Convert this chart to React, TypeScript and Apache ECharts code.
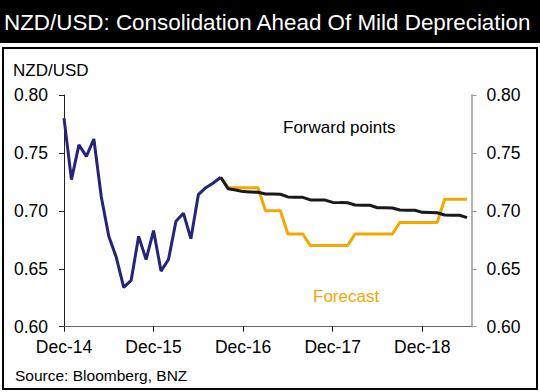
import React, { useEffect, useRef } from "react";
import * as echarts from "echarts";

// x positions are months counted from Dec-14 (= 0)
const tickLabels = ["Dec-14", "Dec-15", "Dec-16", "Dec-17", "Dec-18"];
const monthsShown = 54.6;

const spotStart = 0;
const spot = [
  0.78, 0.727, 0.757, 0.747, 0.762, 0.712, 0.678, 0.66, 0.634, 0.64, 0.678,
  0.658, 0.683, 0.648, 0.658, 0.691, 0.698, 0.676, 0.714, 0.72, 0.724, 0.729,
];

const forwardStart = 21;
const forward = [
  0.729, 0.719, 0.718, 0.7166, 0.7163, 0.716, 0.7145, 0.7145, 0.7143, 0.712,
  0.7118, 0.7117, 0.7094, 0.7094, 0.7093, 0.7073, 0.7071, 0.707, 0.705,
  0.7049, 0.7048, 0.7027, 0.7026, 0.7025, 0.7007, 0.7006, 0.7005, 0.6987,
  0.6986, 0.6984, 0.6964, 0.6963, 0.6962, 0.6941,
];

const forecastStart = 21;
const forecast = [
  0.729, 0.72, 0.72, 0.72, 0.72, 0.72, 0.7, 0.7, 0.7, 0.68, 0.68, 0.68, 0.67,
  0.67, 0.67, 0.67, 0.67, 0.67, 0.68, 0.68, 0.68, 0.68, 0.68, 0.68, 0.69,
  0.69, 0.69, 0.69, 0.69, 0.69, 0.71, 0.71, 0.71, 0.71,
];

const FONT = "'Liberation Sans', Arial, Helvetica, sans-serif";
const BLUE = "#24247a";
const ORANGE = "#f5a700";
const BLACK = "#1a1a1a";

const toPairs = (start: number, arr: number[]) => arr.map((v, k) => [start + k, v]);

export default function App() {
  const ref = useRef<HTMLDivElement>(null);
  useEffect(() => {
    if (!ref.current) return;
    const chart = echarts.init(ref.current, undefined, { renderer: "svg" });
    const yAxisBase = {
      type: "value" as const,
      min: 0.6,
      max: 0.8,
      interval: 0.05,
      splitLine: { show: false },
      axisLabel: {
        fontFamily: FONT,
        fontSize: 17.5,
        color: "#000",
        margin: 15,
        formatter: (v: number) => v.toFixed(2),
      },
    };
    chart.setOption({
      animation: false,
      backgroundColor: "#fff",
      grid: { left: 64, right: 68.5, top: 95, bottom: 65.3 },
      xAxis: {
        type: "value",
        min: 0,
        max: monthsShown,
        interval: 12,
        splitLine: { show: false },
        axisLine: { lineStyle: { color: "#666", width: 1 } },
        axisTick: { length: 5, lineStyle: { color: "#111" } },
        axisLabel: {
          fontFamily: FONT,
          fontSize: 17.5,
          color: "#000",
          margin: 11.5,
          showMaxLabel: false,
          formatter: (v: number) =>
            Math.abs(v % 12) < 1e-6 ? tickLabels[Math.round(v / 12)] ?? "" : "",
        },
      },
      yAxis: [
        {
          ...yAxisBase,
          position: "left",
          axisLine: { show: true, lineStyle: { color: "#222", width: 1 } },
          axisTick: { show: true, length: 5, lineStyle: { color: "#222" } },
          axisLabel: { ...yAxisBase.axisLabel, margin: 16 },
        },
        {
          ...yAxisBase,
          position: "right",
          axisLine: { show: true, lineStyle: { color: "#9a9a9a", width: 1.5 } },
          axisTick: { show: true, length: 5, lineStyle: { color: "#9a9a9a" } },
        },
      ],
      series: [
        {
          type: "line",
          data: toPairs(forecastStart, forecast),
          showSymbol: false,
          lineStyle: { color: ORANGE, width: 3 },
          z: 2,
        },
        {
          type: "line",
          data: toPairs(forwardStart, forward),
          showSymbol: false,
          lineStyle: { color: BLACK, width: 3 },
          z: 3,
        },
        {
          type: "line",
          data: toPairs(spotStart, spot),
          showSymbol: false,
          lineStyle: { color: BLUE, width: 3 },
          z: 4,
        },
      ],
      graphic: [
        { type: "rect", shape: { x: 0, y: 0, width: 540, height: 43 }, style: { fill: "#000" }, silent: true },
        {
          type: "rect",
          shape: { x: 3, y: 48, width: 534, height: 341 },
          style: { fill: "none", stroke: "#000", lineWidth: 2 },
          silent: true,
        },
        {
          type: "text",
          x: 4,
          y: 22,
          style: {
            text: "NZD/USD: Consolidation Ahead Of Mild Depreciation",
            fill: "#fff",
            font: `22.4px ${FONT}`,
            verticalAlign: "middle",
          },
        },
        {
          type: "text",
          x: 13,
          y: 70,
          style: { text: "NZD/USD", fill: "#000", font: `17px ${FONT}`, verticalAlign: "middle" },
        },
        {
          type: "text",
          x: 283,
          y: 127,
          style: { text: "Forward points", fill: "#000", font: `17px ${FONT}`, verticalAlign: "middle" },
        },
        {
          type: "text",
          x: 313,
          y: 296,
          style: { text: "Forecast", fill: ORANGE, font: `17px ${FONT}`, verticalAlign: "middle" },
        },
        {
          type: "text",
          x: 15,
          y: 375.5,
          style: { text: "Source: Bloomberg, BNZ", fill: "#000", font: `15.5px ${FONT}`, verticalAlign: "middle" },
        },
      ],
    });
    return () => chart.dispose();
  }, []);
  return (
    <div
      ref={ref}
      style={{ position: "fixed", left: 0, top: 0, width: 540, height: 392 }}
    />
  );
}
